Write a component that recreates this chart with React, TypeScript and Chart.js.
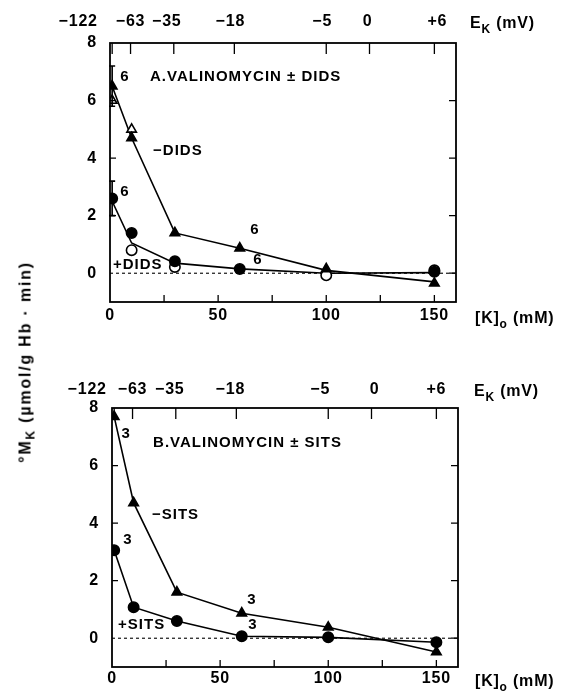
import React, { useEffect, useRef } from 'react';
import { Chart, registerables } from 'chart.js';
Chart.register(...registerables);

const FONT = '"Liberation Sans", Arial, Helvetica, sans-serif';
const W = 'bold';

// ---------- shared axis data ----------
const K_CONC = [1, 10, 30, 60, 100, 150];
const X_LABEL_TICKS = [0, 50, 100, 150];
const X_MINOR_TICKS = [25, 50, 75, 100, 125, 150];
const Y_LABEL_TICKS = [0, 2, 4, 6, 8];
const Y_TICKS_LEFT = [2, 4, 6];
const Y_TICKS_RIGHT = [0, 2, 4, 6];
const EK_TICK_K = [1, 9.5, 29.5, 57.5, 100, 120, 150];
const EK_LABELS = ['−122', '−63', '−35', '−18', '−5', '0', '+6'];

// ---------- Panel A: valinomycin ± DIDS ----------
const A_MINUS_DIDS = [6.5, 4.7, 1.4, 0.87, 0.15, -0.35];
const A_MINUS_DIDS_LINE = [6.5, 4.7, 1.4, 0.87, 0.1, -0.3];
const A_OPEN_TRI_K = [1, 10];
const A_OPEN_TRI = [6.0, 5.0];
const A_PLUS_DIDS_K = [1, 10, 30, 60, 150];
const A_PLUS_DIDS = [2.6, 1.4, 0.42, 0.15, 0.05];
const A_OPEN_CIRC_K = [10, 30, 100, 150];
const A_OPEN_CIRC = [0.8, 0.22, -0.07, 0.1];
const A_PLUS_DIDS_LINE = [2.5, 1.05, 0.35, 0.15, 0.0, 0.02];
const A_ERR_K = [1, 1];
const A_ERR_LO = [5.8, 2.0];
const A_ERR_HI = [7.2, 3.2];

// ---------- Panel B: valinomycin ± SITS ----------
const B_MINUS_SITS = [7.7, 4.7, 1.6, 0.87, 0.38, -0.48];
const B_PLUS_SITS = [3.06, 1.08, 0.6, 0.07, 0.03, -0.14];

const A_NOTES = [
  { text: '6', k: 6.9, v: 6.82, align: 'center' },
  { text: 'A.VALINOMYCIN ± DIDS', k: 18.5, v: 6.82, align: 'left' },
  { text: '−DIDS', k: 19.9, v: 4.24, align: 'left' },
  { text: '6', k: 6.9, v: 2.82, align: 'center' },
  { text: '+DIDS', k: 1.4, v: 0.28, align: 'left' },
  { text: '6', k: 67, v: 1.5, align: 'center' },
  { text: '6', k: 68.4, v: 0.45, align: 'center' },
];
const B_NOTES = [
  { text: '3', k: 6.5, v: 7.1, align: 'center' },
  { text: 'B.VALINOMYCIN ± SITS', k: 19, v: 6.78, align: 'left' },
  { text: '−SITS', k: 18.5, v: 4.28, align: 'left' },
  { text: '3', k: 7.4, v: 3.41, align: 'center' },
  { text: '+SITS', k: 2.8, v: 0.45, align: 'left' },
  { text: '3', k: 64.7, v: 1.32, align: 'center' },
  { text: '3', k: 65.2, v: 0.45, align: 'center' },
];

const pts = (xs: number[], ys: number[]) => xs.map((x, i) => ({ x, y: ys[i] }));

const markerStyle = (shape: string, filled: boolean) => ({
  showLine: false,
  pointStyle: shape,
  pointRadius: shape === 'triangle' ? 5.5 : 5.2,
  pointBackgroundColor: filled ? '#000' : '#fff',
  pointBorderColor: '#000',
  pointBorderWidth: 1.6,
  borderColor: '#000',
  backgroundColor: '#000',
});
const lineStyle = {
  showLine: true,
  pointRadius: 0,
  borderColor: '#000',
  borderWidth: 1.6,
  fill: false,
  tension: 0,
};

const A_DATASETS = [
  { label: '−DIDS', data: pts(K_CONC, A_MINUS_DIDS), ...markerStyle('triangle', true) },
  { label: '−DIDS open', data: pts(A_OPEN_TRI_K, A_OPEN_TRI), ...markerStyle('triangle', false) },
  { label: '+DIDS', data: pts(A_PLUS_DIDS_K, A_PLUS_DIDS), ...markerStyle('circle', true) },
  { label: '+DIDS open', data: pts(A_OPEN_CIRC_K, A_OPEN_CIRC), ...markerStyle('circle', false) },
  { label: '−DIDS line', data: pts(K_CONC, A_MINUS_DIDS_LINE), ...lineStyle },
  { label: '+DIDS line', data: pts(K_CONC, A_PLUS_DIDS_LINE), ...lineStyle },
];
const B_DATASETS = [
  { label: '−SITS', data: pts(K_CONC, B_MINUS_SITS), ...markerStyle('triangle', true), showLine: true, borderWidth: 1.6 },
  { label: '+SITS', data: pts(K_CONC, B_PLUS_SITS), ...markerStyle('circle', true), showLine: true, borderWidth: 1.6 },
];

const A_SPEC = {
  id: 'A', top: 0, height: 345, leftW: 110, rightPad: 127, topH: 43, bottomH: 43, xPad: 4,
  ekDy: 21, ekDx: [-34, 0, -7, -4, -4, -2, 3], ekTitleX: 470, kTitleX: 475,
  datasets: A_DATASETS, notes: A_NOTES, err: true,
};
const B_SPEC = {
  id: 'B', top: 345, height: 349, leftW: 112, rightPad: 125, topH: 63, bottomH: 27, xPad: 2,
  ekDy: 18, ekDx: [-27, 0, -6, -6, -8, 3, 0], ekTitleX: 474, kTitleX: 475,
  datasets: B_DATASETS, notes: B_NOTES, err: false,
};

function drawRich(ctx: any, x: number, y: number, parts: { t: string; sub?: boolean }[], size: number) {
  ctx.textAlign = 'left';
  ctx.textBaseline = 'alphabetic';
  let cx = x;
  for (const p of parts) {
    const s = p.sub ? Math.round(size * 0.72) : size;
    ctx.font = `${W} ${s}px ${FONT}`;
    ctx.fillText(p.t, cx, y + (p.sub ? size * 0.32 : 0));
    cx += ctx.measureText(p.t).width;
  }
}

function buildConfig(spec: any): any {
  const decor = {
    id: 'decor' + spec.id,
    beforeDraw(chart: any) {
      chart.ctx.letterSpacing = '0.8px';
    },
    beforeDatasetsDraw(chart: any) {
      const { ctx, chartArea, scales } = chart;
      const py = scales.y.getPixelForValue(0);
      ctx.save();
      ctx.setLineDash([3, 3]);
      ctx.lineWidth = 1.1;
      ctx.strokeStyle = '#000';
      ctx.beginPath();
      ctx.moveTo(chartArea.left, py);
      ctx.lineTo(chartArea.right, py);
      ctx.stroke();
      ctx.restore();
    },
    afterDraw(chart: any) {
      const { ctx, chartArea, scales } = chart;
      const { left, right, top, bottom } = chartArea;
      const x = scales.x, y = scales.y, xTop = scales.xTop;
      ctx.save();
      ctx.strokeStyle = '#000';
      ctx.fillStyle = '#000';
      ctx.setLineDash([]);
      ctx.lineWidth = 1.8;
      ctx.strokeRect(left, top, right - left, bottom - top);
      ctx.lineWidth = 1.3;
      ctx.beginPath();
      for (const k of X_MINOR_TICKS) {
        const px = x.getPixelForValue(k);
        ctx.moveTo(px, bottom);
        ctx.lineTo(px, bottom - 7);
      }
      for (const k of EK_TICK_K) {
        const px = xTop.getPixelForValue(k);
        ctx.moveTo(px, top);
        ctx.lineTo(px, top + 11);
      }
      for (const v of Y_TICKS_LEFT) {
        const py = y.getPixelForValue(v);
        ctx.moveTo(left, py);
        ctx.lineTo(left + 6, py);
      }
      for (const v of Y_TICKS_RIGHT) {
        const py = y.getPixelForValue(v);
        ctx.moveTo(right, py);
        ctx.lineTo(right - 7, py);
      }
      ctx.stroke();

      // error bars
      if (spec.err) {
        ctx.lineWidth = 1.6;
        ctx.beginPath();
        A_ERR_K.forEach((k, i) => {
          const px = x.getPixelForValue(k);
          const lo = y.getPixelForValue(A_ERR_LO[i]);
          const hi = y.getPixelForValue(A_ERR_HI[i]);
          ctx.moveTo(px, lo); ctx.lineTo(px, hi);
          ctx.moveTo(px - 3, lo); ctx.lineTo(px + 3, lo);
          ctx.moveTo(px - 3, hi); ctx.lineTo(px + 3, hi);
        });
        ctx.stroke();
      }

      // E_K tick labels
      ctx.letterSpacing = '0.8px';
      ctx.font = `${W} 16px ${FONT}`;
      ctx.textAlign = 'center';
      ctx.textBaseline = 'middle';
      EK_LABELS.forEach((lab, i) => {
        ctx.fillText(lab, xTop.getPixelForValue(EK_TICK_K[i]) + spec.ekDx[i], top - spec.ekDy);
      });
      // E_K (mV)
      drawRich(ctx, spec.ekTitleX, top - spec.ekDy + 6, [{ t: 'E' }, { t: 'K', sub: true }, { t: ' (mV)' }], 16);
      // [K]o (mM)
      const lblY = bottom + spec.xPad + 3 + 14;
      drawRich(ctx, spec.kTitleX, lblY, [{ t: '[K]' }, { t: 'o', sub: true }, { t: ' (mM)' }], 16);

      // annotations
      ctx.letterSpacing = '1px';
      ctx.font = `${W} 15px ${FONT}`;
      ctx.textBaseline = 'middle';
      for (const n of spec.notes) {
        ctx.textAlign = n.align;
        ctx.fillText(n.text, x.getPixelForValue(n.k), y.getPixelForValue(n.v));
      }
      ctx.restore();
    },
  };

  return {
    type: 'line',
    data: { datasets: spec.datasets },
    options: {
      responsive: false,
      animation: false,
      events: [],
      layout: { padding: { left: 0, right: spec.rightPad, top: 0, bottom: 0 } },
      plugins: { legend: { display: false }, tooltip: { enabled: false }, title: { display: false } },
      scales: {
        x: {
          type: 'linear', position: 'bottom', min: 0, max: 160,
          grid: { display: false, drawTicks: false }, border: { display: false },
          afterBuildTicks: (s: any) => { s.ticks = X_LABEL_TICKS.map((v) => ({ value: v })); },
          afterFit: (s: any) => { s.height = spec.bottomH; },
          ticks: { color: '#000', font: { family: FONT, size: 16, weight: W }, padding: spec.xPad, maxRotation: 0, autoSkip: false },
        },
        xTop: {
          type: 'linear', position: 'top', min: 0, max: 160,
          grid: { display: false, drawTicks: false }, border: { display: false },
          afterBuildTicks: (s: any) => { s.ticks = EK_TICK_K.map((v) => ({ value: v })); },
          afterFit: (s: any) => { s.height = spec.topH; },
          ticks: { display: false },
        },
        y: {
          type: 'linear', position: 'left', min: -1, max: 8,
          grid: { display: false, drawTicks: false }, border: { display: false },
          afterBuildTicks: (s: any) => { s.ticks = Y_LABEL_TICKS.map((v) => ({ value: v })); },
          afterFit: (s: any) => { s.width = spec.leftW; },
          ticks: { color: '#000', font: { family: FONT, size: 16, weight: W }, padding: 13 },
        },
      },
    },
    plugins: [decor],
  };
}

function Panel({ spec }: { spec: any }) {
  const ref = useRef<HTMLCanvasElement>(null);
  useEffect(() => {
    const chart = new Chart(ref.current as HTMLCanvasElement, buildConfig(spec));
    return () => chart.destroy();
  }, [spec]);
  return (
    <canvas
      ref={ref}
      width={583}
      height={spec.height}
      style={{ position: 'absolute', left: 0, top: spec.top, width: 583, height: spec.height }}
    />
  );
}

export default function App() {
  return (
    <div style={{ position: 'absolute', left: 0, top: 0, width: 583, height: 694, background: '#fff', fontFamily: FONT, color: '#000' }}>
      <Panel spec={A_SPEC} />
      <Panel spec={B_SPEC} />
      <div
        style={{
          position: 'absolute', left: 28, top: 362,
          transform: 'translate(-50%, -50%) rotate(-90deg)',
          whiteSpace: 'nowrap', fontSize: 16, fontWeight: 'bold', letterSpacing: '1.8px', lineHeight: '20px',
        }}
      >
        °M<sub style={{ fontSize: 12, verticalAlign: '-4px' }}>K</sub> (µmol/g Hb · min)
      </div>
    </div>
  );
}
